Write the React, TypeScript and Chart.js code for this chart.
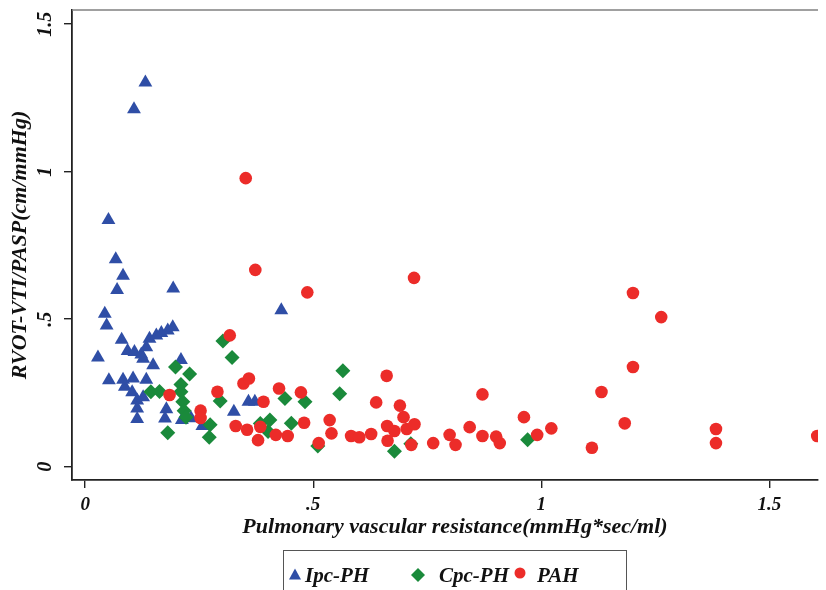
import React, { useEffect, useRef } from 'react';
import { Chart, registerables } from 'chart.js';

Chart.register(...registerables);

// Ipc-PH (blue triangles): [PVR, RVOT-VTI/PASP]
const ipcPH: [number, number][] = [
  [0.132, 1.302], [0.107, 1.212], [0.051, 0.836], [0.067, 0.703], [0.083, 0.647],
  [0.070, 0.599], [0.193, 0.604], [0.043, 0.518], [0.047, 0.479], [0.080, 0.430],
  [0.028, 0.370], [0.093, 0.392], [0.108, 0.389], [0.123, 0.380], [0.134, 0.405],
  [0.141, 0.434], [0.156, 0.445], [0.167, 0.453], [0.181, 0.462], [0.192, 0.473],
  [0.127, 0.366], [0.149, 0.344], [0.210, 0.362], [0.052, 0.293], [0.083, 0.295],
  [0.105, 0.299], [0.134, 0.295], [0.087, 0.271], [0.103, 0.252], [0.114, 0.224],
  [0.114, 0.197], [0.114, 0.162], [0.127, 0.235], [0.178, 0.195], [0.175, 0.163],
  [0.212, 0.158], [0.232, 0.164], [0.257, 0.138], [0.326, 0.186], [0.358, 0.220],
  [0.372, 0.220], [0.430, 0.530],
];

// Cpc-PH (green diamonds)
const cpcPH: [number, number][] = [
  [0.302, 0.426], [0.322, 0.370], [0.198, 0.338], [0.229, 0.314], [0.210, 0.279],
  [0.144, 0.254], [0.163, 0.255], [0.210, 0.254], [0.214, 0.220], [0.217, 0.190],
  [0.221, 0.168], [0.181, 0.115], [0.274, 0.142], [0.272, 0.100], [0.296, 0.223],
  [0.384, 0.146], [0.405, 0.158], [0.401, 0.119], [0.438, 0.231], [0.452, 0.147],
  [0.482, 0.220], [0.510, 0.070], [0.565, 0.325], [0.558, 0.247], [0.678, 0.052],
  [0.714, 0.078], [0.970, 0.091],
];

// PAH (red circles)
const pah: [number, number][] = [
  [0.352, 0.978], [0.373, 0.667], [0.487, 0.591], [0.721, 0.640], [1.201, 0.589],
  [1.263, 0.507], [1.201, 0.338], [1.132, 0.253], [1.183, 0.147], [1.111, 0.064],
  [1.383, 0.128], [1.383, 0.080], [1.605, 0.104], [0.871, 0.245], [0.962, 0.168],
  [0.843, 0.134], [0.871, 0.104], [0.901, 0.102], [0.909, 0.080], [0.991, 0.108],
  [1.022, 0.130], [0.661, 0.308], [0.638, 0.218], [0.690, 0.207], [0.698, 0.168],
  [0.536, 0.158], [0.540, 0.113], [0.583, 0.104], [0.601, 0.100], [0.627, 0.111],
  [0.662, 0.138], [0.678, 0.121], [0.705, 0.128], [0.722, 0.144], [0.663, 0.088],
  [0.715, 0.074], [0.763, 0.080], [0.799, 0.108], [0.812, 0.074], [0.317, 0.445],
  [0.347, 0.282], [0.359, 0.299], [0.290, 0.254], [0.425, 0.265], [0.473, 0.252],
  [0.391, 0.220], [0.253, 0.190], [0.253, 0.165], [0.330, 0.138], [0.355, 0.125],
  [0.384, 0.135], [0.379, 0.090], [0.418, 0.108], [0.444, 0.104], [0.480, 0.149],
  [0.512, 0.080], [0.185, 0.243],
];

const seriesNames = ['Ipc-PH', 'Cpc-PH', 'PAH'];
const xTicks = [0, 0.5, 1, 1.5];
const xTickLabels = ['0', '.5', '1', '1.5'];
const yTicks = [0, 0.5, 1, 1.5];
const yTickLabels = ['0', '.5', '1', '1.5'];
const xTitle = 'Pulmonary vascular resistance(mmHg*sec/ml)';
const yTitle = 'RVOT-VTI/PASP(cm/mmHg)';

const BLUE = '#2F4EA6';
const GREEN = '#1A8A3B';
const RED = '#EC2C29';
const FONT = '"Liberation Serif", "Times New Roman", serif';

const toPts = (arr: [number, number][]) => arr.map(([x, y]) => ({ x, y }));

const overlay = {
  id: 'overlay',
  afterDraw(chart: any) {
    const { ctx, chartArea, scales } = chart;
    ctx.save();
    // top frame line
    ctx.strokeStyle = '#808080';
    ctx.lineWidth = 1.6;
    ctx.beginPath();
    ctx.moveTo(chartArea.left, chartArea.top);
    ctx.lineTo(chartArea.right, chartArea.top);
    ctx.stroke();

    // rotated y tick labels
    ctx.fillStyle = '#111';
    ctx.font = `italic bold 20px ${FONT}`;
    ctx.textAlign = 'center';
    ctx.textBaseline = 'middle';
    yTicks.forEach((v, i) => {
      const py = scales.y.getPixelForValue(v);
      ctx.save();
      ctx.translate(46, py);
      ctx.rotate(-Math.PI / 2);
      ctx.fillText(yTickLabels[i], 0, 0);
      ctx.restore();
    });

    // x axis title
    ctx.font = `italic bold 22px ${FONT}`;
    ctx.fillText(xTitle, 455, 527);

    // legend
    ctx.strokeStyle = '#555';
    ctx.lineWidth = 1;
    ctx.strokeRect(283.5, 550.5, 343, 60);
    const cy = 575;
    ctx.fillStyle = BLUE;
    ctx.beginPath();
    ctx.moveTo(295, cy - 6.5);
    ctx.lineTo(301, cy + 4.5);
    ctx.lineTo(289, cy + 4.5);
    ctx.closePath();
    ctx.fill();
    ctx.fillStyle = GREEN;
    ctx.beginPath();
    ctx.moveTo(418, cy - 7);
    ctx.lineTo(425, cy);
    ctx.lineTo(418, cy + 7);
    ctx.lineTo(411, cy);
    ctx.closePath();
    ctx.fill();
    ctx.fillStyle = RED;
    ctx.beginPath();
    ctx.arc(520, cy - 2, 5.5, 0, Math.PI * 2);
    ctx.fill();

    ctx.fillStyle = '#111';
    ctx.font = `italic bold 21px ${FONT}`;
    ctx.textAlign = 'left';
    ctx.textBaseline = 'middle';
    ctx.fillText(seriesNames[0], 305, cy + 2);
    ctx.fillText(seriesNames[1], 439, cy + 2);
    ctx.fillText(seriesNames[2], 537, cy + 2);
    ctx.restore();
  },
};

export default function App() {
  const ref = useRef<HTMLCanvasElement | null>(null);

  useEffect(() => {
    document.body.style.margin = '0';
    const canvas = ref.current;
    if (!canvas) return;
    const chart = new Chart(canvas, {
      type: 'scatter',
      data: {
        datasets: [
          {
            label: seriesNames[0],
            data: toPts(ipcPH),
            pointStyle: 'triangle',
            pointRadius: 8,
            pointBorderWidth: 0,
            backgroundColor: BLUE,
            borderColor: BLUE,
            order: 3,
          },
          {
            label: seriesNames[1],
            data: toPts(cpcPH),
            pointStyle: 'rectRot',
            pointRadius: 7.5,
            pointBorderWidth: 0,
            backgroundColor: GREEN,
            borderColor: GREEN,
            order: 2,
          },
          {
            label: seriesNames[2],
            data: toPts(pah),
            pointStyle: 'circle',
            pointRadius: 6.3,
            pointBorderWidth: 0,
            backgroundColor: RED,
            borderColor: RED,
            order: 1,
          },
        ],
      },
      options: {
        responsive: false,
        animation: false,
        events: [],
        layout: { padding: { left: 0, right: 0, top: 10, bottom: 0 } },
        plugins: { legend: { display: false }, tooltip: { enabled: false } },
        scales: {
          x: {
            type: 'linear',
            min: -0.0289,
            max: 1.6067,
            afterFit: (s: any) => { s.height = 110; },
            afterBuildTicks: (s: any) => { s.ticks = xTicks.map((v) => ({ value: v })); },
            grid: { drawOnChartArea: false, drawTicks: true, tickLength: 8, color: '#222', lineWidth: 1.4 },
            border: { display: true, color: '#222', width: 1.8 },
            ticks: {
              padding: 6,
              color: '#111',
              font: { family: FONT, size: 19, style: 'italic', weight: 'bold' },
              callback: (v: any) => xTickLabels[xTicks.indexOf(Number(v))] ?? '',
              maxRotation: 0,
              autoSkip: false,
            },
            title: { display: false },
          },
          y: {
            type: 'linear',
            min: -0.0451,
            max: 1.548,
            afterFit: (s: any) => { s.width = 72; },
            afterBuildTicks: (s: any) => { s.ticks = yTicks.map((v) => ({ value: v })); },
            grid: { drawOnChartArea: false, drawTicks: true, tickLength: 8, color: '#222', lineWidth: 1.4 },
            border: { display: true, color: '#222', width: 1.8 },
            ticks: { display: false },
            title: {
              display: true,
              text: yTitle,
              color: '#111',
              font: { family: FONT, size: 22, style: 'italic', weight: 'bold' },
              padding: { top: 7, bottom: 0 },
            },
          },
        },
      },
      plugins: [overlay],
    });
    return () => chart.destroy();
  }, []);

  return (
    <div style={{ width: 826, height: 590, position: 'relative' }}>
      <canvas ref={ref} width={826} height={590} />
    </div>
  );
}
